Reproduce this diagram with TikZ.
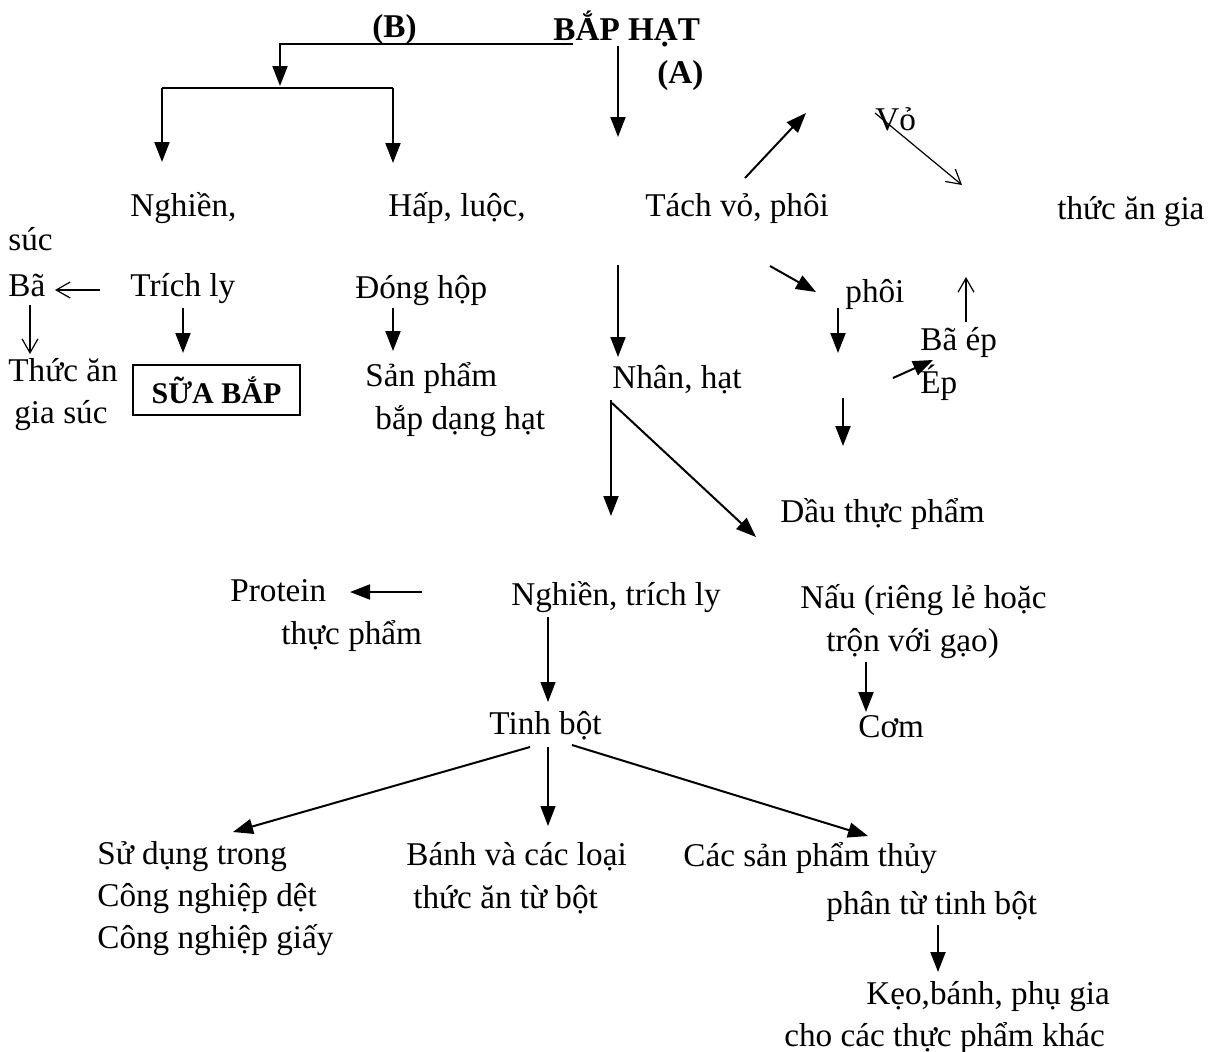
\documentclass[tikz,border=0pt]{standalone}
\usepackage{fontspec}
\setmainfont{Liberation Serif}
\usetikzlibrary{arrows.meta}
\begin{document}
\begin{tikzpicture}[x=0.5pt,y=-0.5pt,
  txt/.style={anchor=base west,inner sep=0pt,font=\fontsize{16.6}{20}\selectfont},
  btxt/.style={anchor=base west,inner sep=0pt,font=\fontsize{16.6}{20}\selectfont\bfseries},
  arr/.style={-{Triangle[length=10pt,width=7.5pt]},line width=1pt},
  tarr/.style={-{Triangle[length=10pt,width=7.5pt]},line width=0.6pt},
  oarr/.style={-{Straight Barb[length=7pt,width=8pt]},line width=0.6pt}]
\useasboundingbox (0,0) rectangle (1216,1051);

% ---- top: raw material and the two routes
\node[btxt] (B) at (372,37) {(B)};
\node[btxt] (bap) at (553,40) {BẮP HẠT};
\node[btxt] (A) at (657,83) {(A)};

\coordinate (bB0) at (573,44);
\coordinate (bB1) at (280,86);
\coordinate (sL) at (162,88);
\coordinate (sR) at (393,88);
\draw[arr] (bB0) -| (bB1);
\draw[line width=1pt] (sL) -- (sR);

% ---- second row
\node[txt] (ngh) at (130,216) {Nghiền,};
\node[txt] (hap) at (388,216) {Hấp, luộc,};
\node[txt] (tach) at (645,216) {Tách vỏ, phôi};
\node[txt] (tag) at (1057,219) {thức ăn gia};
\node[txt] (vo) at (875,130) {Vỏ};
\node[txt] (suc) at (8,250) {súc};

\coordinate (nghT) at (162,162);
\coordinate (hapT) at (393,163);
\draw[arr] (sL) -- (nghT);
\draw[arr] (sR) -- (hapT);
\coordinate (aS) at (618,46);
\coordinate (aT) at (618,137);
\draw[arr] (aS) -- (aT);

\coordinate (tu0) at (745,178);
\coordinate (tu1) at (806,113);
\draw[arr] (tu0) -- (tu1);
\coordinate (vo0) at (875,113);
\coordinate (vo1) at (962,185);
\draw[oarr] (vo0) -- (vo1);

% ---- branch B: milling and cooking
\node[txt] (ba) at (8,296) {Bã};
\node[txt] (trich) at (130,296) {Trích ly};
\node[txt] (dong) at (355,298) {Đóng hộp};
\node[txt] (thuc1) at (8,381) {Thức ăn};
\node[txt] (thuc2) at (14,423) {gia súc};
\node[draw,line width=0.8pt,minimum width=83.5pt,minimum height=25pt,inner sep=0pt,
      font=\fontsize{15}{18}\selectfont\bfseries] (sua) at (216.5,390) {SỮA BẮP};
\node[txt] (sp1) at (365,386) {Sản phẩm};
\node[txt] (sp2) at (375,429) {bắp dạng hạt};

\coordinate (ba0) at (100,290);
\coordinate (ba1) at (55,290);
\draw[oarr] (ba0) -- (ba1);
\coordinate (bd0) at (30,305);
\coordinate (bd1) at (30,354);
\draw[oarr] (bd0) -- (bd1);
\coordinate (tr0) at (183,308);
\coordinate (tr1) at (183,353);
\draw[arr] (tr0) -- (tr1);
\coordinate (dh0) at (393,308);
\coordinate (dh1) at (393,351);
\draw[arr] (dh0) -- (dh1);

% ---- branch A: hulling, germ and oil
\node[txt] (phoi) at (845,302) {phôi};
\node[txt] (baep) at (920,350) {Bã ép};
\node[txt] (nhan) at (612,388) {Nhân, hạt};
\node[txt] (ep) at (920,393) {Ép};
\node[txt] (dau) at (780,522) {Dầu thực phẩm};

\coordinate (nh0) at (618,265);
\coordinate (nh1) at (618,357);
\draw[arr] (nh0) -- (nh1);
\coordinate (ph0) at (770,266);
\coordinate (ph1) at (816,292);
\draw[arr] (ph0) -- (ph1);
\coordinate (pd0) at (838,308);
\coordinate (pd1) at (838,353);
\draw[arr] (pd0) -- (pd1);
\coordinate (be0) at (966,322);
\coordinate (be1) at (966,277);
\draw[oarr] (be0) -- (be1);
\coordinate (ep0) at (893,378);
\coordinate (ep1) at (933,360);
\draw[arr] (ep0) -- (ep1);
\coordinate (ed0) at (843,398);
\coordinate (ed1) at (843,446);
\draw[arr] (ed0) -- (ed1);

\coordinate (nd0) at (611,400);
\coordinate (nd1) at (611,516);
\coordinate (nx1) at (756,537);
\draw[arr] (nd0) -- (nd1);
\draw[arr] (nd0) ++(1,3) -- (nx1);

% ---- milling of the kernel
\node[txt] (prot) at (230,601) {Protein};
\node[txt] (prot2) at (281,644) {thực phẩm};
\node[txt] (ntl) at (511,605) {Nghiền, trích ly};
\node[txt] (nau1) at (800,608) {Nấu (riêng lẻ hoặc};
\node[txt] (nau2) at (826,651) {trộn với gạo)};
\node[txt] (tinh) at (489,734) {Tinh bột};
\node[txt] (com) at (858,737) {Cơm};

\coordinate (pr0) at (422,592);
\coordinate (pr1) at (350,592);
\draw[arr] (pr0) -- (pr1);
\coordinate (tb0) at (548,617);
\coordinate (tb1) at (548,702);
\draw[tarr] (tb0) -- (tb1);
\coordinate (cm0) at (866,662);
\coordinate (cm1) at (866,712);
\draw[arr] (cm0) -- (cm1);

% ---- uses of starch
\node[txt] (sd1) at (97,864) {Sử dụng trong};
\node[txt] (sd2) at (97,906) {Công nghiệp dệt};
\node[txt] (sd3) at (97,948) {Công nghiệp giấy};
\node[txt] (bn1) at (406,865) {Bánh và các loại};
\node[txt] (bn2) at (413,908) {thức ăn từ bột};
\node[txt] (cs1) at (683,866) {Các sản phẩm thủy};
\node[txt] (cs2) at (826,914) {phân từ tinh bột};
\node[txt] (kb1) at (866,1004) {Kẹo,bánh, phụ gia};
\node[txt] (kb2) at (784,1046) {cho các thực phẩm khác};

\coordinate (tl0) at (530,747);
\coordinate (tl1) at (233,832);
\draw[arr] (tl0) -- (tl1);
\coordinate (tm0) at (548,747);
\coordinate (tm1) at (548,826);
\draw[tarr] (tm0) -- (tm1);
\coordinate (tr2) at (572,745);
\coordinate (tr3) at (868,836);
\draw[arr] (tr2) -- (tr3);
\coordinate (kb0) at (938,925);
\coordinate (kbT) at (938,972);
\draw[arr] (kb0) -- (kbT);
\end{tikzpicture}
\end{document}
